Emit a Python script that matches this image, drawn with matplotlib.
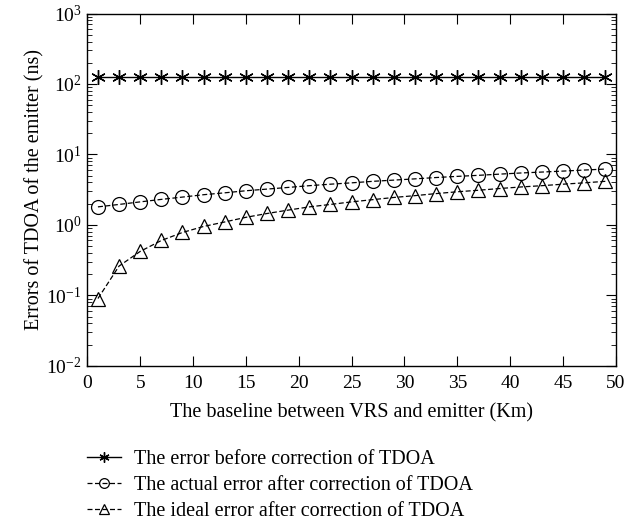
import matplotlib.pyplot as plt
from matplotlib.ticker import LogLocator, NullFormatter

# Data
baseline = [1, 3, 5, 7, 9, 11, 13, 15, 17, 19, 21, 23, 25, 27, 29, 31, 33, 35, 37, 39, 41, 43, 45, 47, 49]
err_before = [125] * len(baseline)
err_actual = [1.8, 1.95, 2.12, 2.3, 2.48, 2.68, 2.85, 3.05, 3.22, 3.4, 3.6, 3.78, 3.95,
              4.15, 4.32, 4.5, 4.7, 4.88, 5.05, 5.25, 5.45, 5.62, 5.8, 6.0, 6.2]
err_ideal = [0.09, 0.26, 0.42, 0.6, 0.78, 0.95, 1.1, 1.28, 1.45, 1.62, 1.8, 1.95, 2.12,
             2.28, 2.45, 2.6, 2.78, 2.95, 3.1, 3.28, 3.45, 3.6, 3.78, 3.95, 4.15]
x_ticks = [0, 5, 10, 15, 20, 25, 30, 35, 40, 45, 50]

plt.rcParams['font.family'] = ['Liberation Serif', 'DejaVu Serif']
plt.rcParams['mathtext.fontset'] = 'stix'

fig = plt.figure(figsize=(6.24, 5.21), dpi=100)
ax = fig.add_axes([0.140, 0.298, 0.847, 0.676])

ax.plot(baseline, err_before, '-', color='black', lw=1.0, marker=(6, 2, 0), ms=10.5,
        mew=1.0, label='The error before correction of TDOA')
ax.plot(baseline, err_actual, '--', color='black', lw=0.9, marker='o', ms=10,
        mfc='none', mew=0.9, dashes=(4, 2), label='The actual error after correction of TDOA')
ax.plot(baseline, err_ideal, '--', color='black', lw=0.9, marker='^', ms=10.5,
        mfc='none', mew=0.9, dashes=(4, 2), label='The ideal error after correction of TDOA')

ax.set_yscale('log')
ax.set_ylim(1e-2, 1e3)
ax.set_xlim(0, 50)
ax.set_xticks(x_ticks)
ax.yaxis.set_major_locator(LogLocator(base=10, numticks=10))
ax.yaxis.set_minor_locator(LogLocator(base=10, subs=range(2, 10), numticks=10))
ax.yaxis.set_minor_formatter(NullFormatter())

ax.tick_params(which='both', direction='in', top=True, right=True, labelsize=14)
ax.tick_params(axis='x', pad=7)
ax.tick_params(axis='y', pad=4)
ax.tick_params(which='major', length=7, width=0.8)
ax.tick_params(which='minor', length=3.5, width=0.6)
for s in ax.spines.values():
    s.set_linewidth(1.0)

ax.set_xlabel('The baseline between VRS and emitter (Km)', fontsize=14.5, labelpad=8)
ax.set_ylabel('Errors of TDOA of the emitter (ns)', fontsize=14.5, labelpad=1)

fig.legend(loc='center left', bbox_to_anchor=(0.139, 0.068), frameon=False, fontsize=14.5,
           handlelength=1.7, handletextpad=0.65, labelspacing=0.33, borderaxespad=0,
           borderpad=0, markerscale=0.7)

plt.savefig('out.png', dpi=100, facecolor='white')
